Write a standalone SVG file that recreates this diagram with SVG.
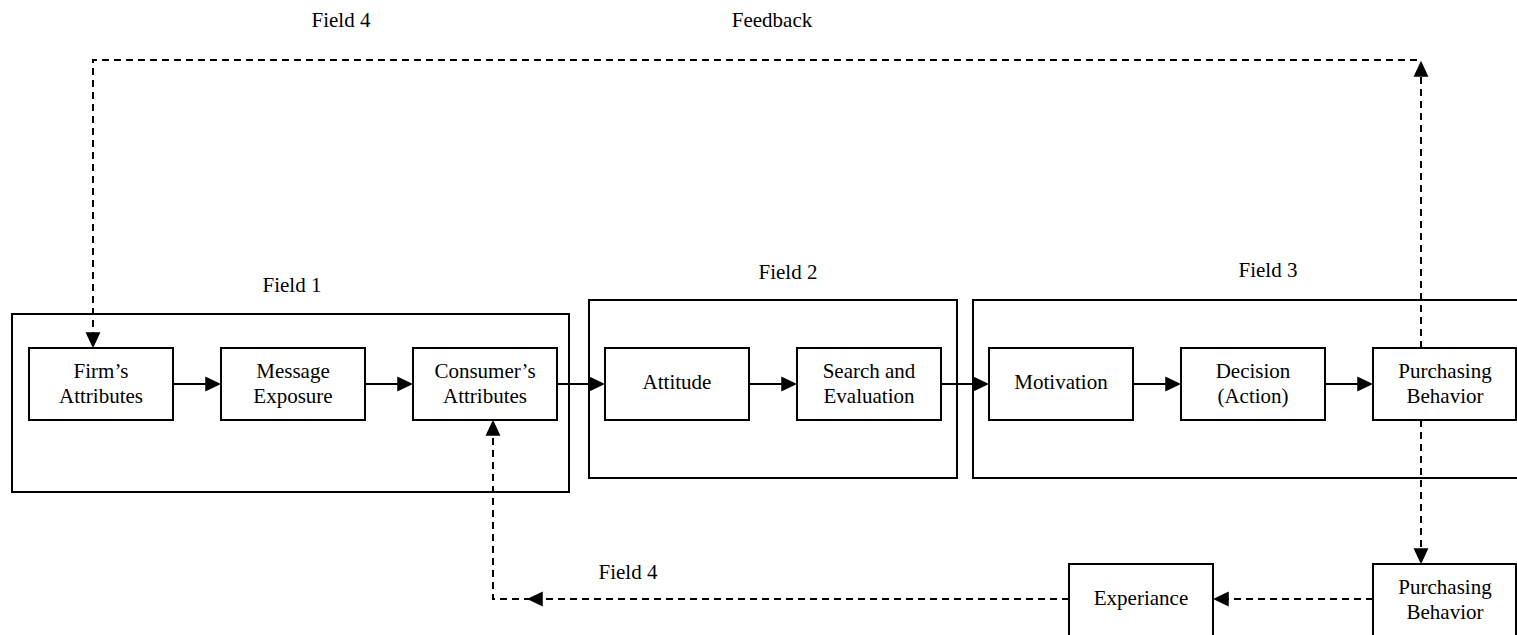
<svg xmlns="http://www.w3.org/2000/svg" width="1517" height="635" viewBox="0 0 1517 635">
  <style>
    .box { fill: #fff; stroke: #000; stroke-width: 2; }
    .field { fill: none; stroke: #000; stroke-width: 2; }
    .lbl { font-family: "Liberation Serif", "Times New Roman", serif; font-size: 21px; fill: #000; text-anchor: middle; }
    .flow { fill: none; stroke: #000; stroke-width: 2; }
    .dash { fill: none; stroke: #000; stroke-width: 2; stroke-dasharray: 7 5; }
  </style>
  <defs>
    <marker id="arrow" markerUnits="userSpaceOnUse" markerWidth="16" markerHeight="16" viewBox="0 0 15 14" refX="11" refY="7" orient="auto">
      <path d="M0,0 L15,7 L0,14 Z" fill="#000"/>
    </marker>
  </defs>
  <rect width="1517" height="635" fill="#fff"/>

  <!-- field frames -->
  <g id="field1">
    <rect class="field" x="12" y="314" width="557" height="178"/>
    <text class="lbl" x="292" y="292">Field 1</text>
  </g>
  <g id="field2">
    <rect class="field" x="589" y="300" width="368" height="178"/>
    <text class="lbl" x="788" y="279">Field 2</text>
  </g>
  <g id="field3">
    <rect class="field" x="973" y="300" width="560" height="178"/>
    <text class="lbl" x="1268" y="277">Field 3</text>
  </g>

  <!-- loose labels -->
  <text id="label-field4-top" class="lbl" x="341" y="27">Field 4</text>
  <text id="label-feedback" class="lbl" x="772" y="27">Feedback</text>
  <text id="label-field4-bottom" class="lbl" x="628" y="579">Field 4</text>

  <!-- connectors -->
  <g id="connectors">
    <line class="flow" x1="173" y1="384" x2="217" y2="384" marker-end="url(#arrow)"/>
    <line class="flow" x1="365" y1="384" x2="409" y2="384" marker-end="url(#arrow)"/>
    <line class="flow" x1="557" y1="384" x2="601" y2="384" marker-end="url(#arrow)"/>
    <line class="flow" x1="749" y1="384" x2="793" y2="384" marker-end="url(#arrow)"/>
    <line class="flow" x1="941" y1="384" x2="985" y2="384" marker-end="url(#arrow)"/>
    <line class="flow" x1="1133" y1="384" x2="1177" y2="384" marker-end="url(#arrow)"/>
    <line class="flow" x1="1325" y1="384" x2="1369" y2="384" marker-end="url(#arrow)"/>

    <!-- feedback loop over the top -->
    <line class="dash" x1="1421" y1="348" x2="1421" y2="65" marker-end="url(#arrow)"/>
    <polyline class="dash" points="1417,60 93,60 93,344" marker-end="url(#arrow)"/>

    <!-- loop along the bottom -->
    <line class="dash" x1="1421" y1="420" x2="1421" y2="560" marker-end="url(#arrow)"/>
    <line class="dash" x1="1373" y1="599" x2="1217" y2="599" marker-end="url(#arrow)"/>
    <line class="dash" x1="1069" y1="599" x2="531" y2="599" marker-end="url(#arrow)"/>
    <polyline class="dash" points="531,599 493,599 493,424" marker-end="url(#arrow)"/>
  </g>

  <!-- process steps -->
  <g id="firms-attributes">
    <rect class="box" x="29" y="348" width="144" height="72"/>
    <text class="lbl" x="101" y="378">Firm’s</text>
    <text class="lbl" x="101" y="403">Attributes</text>
  </g>
  <g id="message-exposure">
    <rect class="box" x="221" y="348" width="144" height="72"/>
    <text class="lbl" x="293" y="378">Message</text>
    <text class="lbl" x="293" y="403">Exposure</text>
  </g>
  <g id="consumers-attributes">
    <rect class="box" x="413" y="348" width="144" height="72"/>
    <text class="lbl" x="485" y="378">Consumer’s</text>
    <text class="lbl" x="485" y="403">Attributes</text>
  </g>
  <g id="attitude">
    <rect class="box" x="605" y="348" width="144" height="72"/>
    <text class="lbl" x="677" y="389">Attitude</text>
  </g>
  <g id="search-evaluation">
    <rect class="box" x="797" y="348" width="144" height="72"/>
    <text class="lbl" x="869" y="378">Search and</text>
    <text class="lbl" x="869" y="403">Evaluation</text>
  </g>
  <g id="motivation">
    <rect class="box" x="989" y="348" width="144" height="72"/>
    <text class="lbl" x="1061" y="389">Motivation</text>
  </g>
  <g id="decision">
    <rect class="box" x="1181" y="348" width="144" height="72"/>
    <text class="lbl" x="1253" y="378">Decision</text>
    <text class="lbl" x="1253" y="403">(Action)</text>
  </g>
  <g id="purchasing-behavior">
    <rect class="box" x="1373" y="348" width="143" height="72"/>
    <text class="lbl" x="1445" y="378">Purchasing</text>
    <text class="lbl" x="1445" y="403">Behavior</text>
  </g>
  <g id="purchasing-behavior-after">
    <rect class="box" x="1373" y="564" width="143" height="72"/>
    <text class="lbl" x="1445" y="594">Purchasing</text>
    <text class="lbl" x="1445" y="619">Behavior</text>
  </g>
  <g id="experiance">
    <rect class="box" x="1069" y="564" width="144" height="72"/>
    <text class="lbl" x="1141" y="605">Experiance</text>
  </g>
</svg>
